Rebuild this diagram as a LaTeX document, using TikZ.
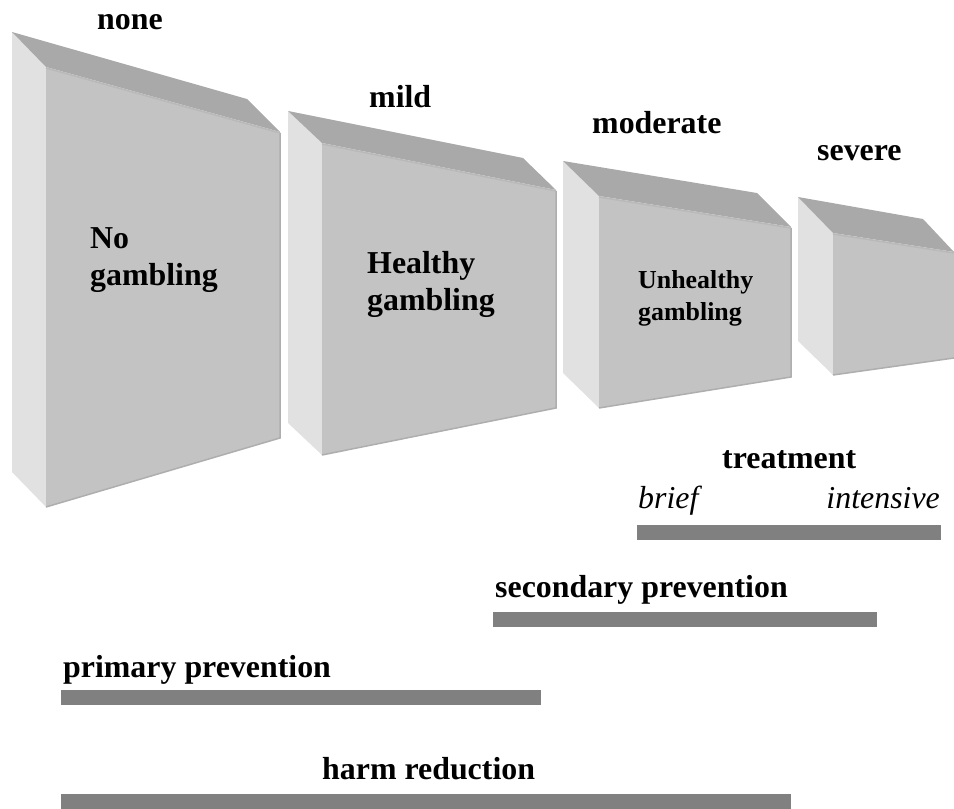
\documentclass[tikz,border=0pt]{standalone}
\usepackage{fontspec}
\setmainfont{Liberation Serif}
\definecolor{sidegray}{HTML}{E1E1E1}
\definecolor{frontgray}{HTML}{C3C3C3}
\definecolor{topgray}{HTML}{A9A9A9}
\definecolor{edgegray}{HTML}{AEAEAE}
\definecolor{bargray}{HTML}{808080}
\tikzset{
  sideface/.style={fill=sidegray},
  frontface/.style={fill=frontgray},
  topface/.style={fill=topgray},
  frontedge/.style={draw=edgegray, line width=1.5bp},
  topedge/.style={draw=frontgray!60!topgray, line width=1.5bp},
  barstyle/.style={fill=bargray},
  lbl/.style={font=\fontsize{32}{37}\selectfont\bfseries, inner sep=0pt, align=left},
  smalllbl/.style={font=\fontsize{26}{32}\selectfont\bfseries, inner sep=0pt, align=left},
  itlbl/.style={font=\fontsize{32}{37}\selectfont\itshape, inner sep=0pt},
}
\begin{document}
\begin{tikzpicture}[x=1bp,y=-1bp]
\useasboundingbox (0,0) rectangle (954,809);
% block 1 (none)
\path[sideface] (12,32) -- (46,67) -- (46,507) -- (12,472) -- cycle;
\path[topface] (12,32) -- (247,99) -- (280,132) -- (46,67) -- cycle;
\path[frontface] (46,67) -- (280,132) -- (280,438) -- (46,507) -- cycle;
\draw[frontedge] (280,133) -- (280,438) -- (46,507);
\draw[topedge] (46,68) -- (280,133);
% block 2 (mild)
\path[sideface] (288,111) -- (322,143) -- (322,455) -- (288,423) -- cycle;
\path[topface] (288,111) -- (523,158) -- (556,190) -- (322,143) -- cycle;
\path[frontface] (322,143) -- (556,190) -- (556,408) -- (322,455) -- cycle;
\draw[frontedge] (556,191) -- (556,408) -- (322,455);
\draw[topedge] (322,144) -- (556,191);
% block 3 (moderate)
\path[sideface] (563,161) -- (599,196) -- (599,408) -- (563,373) -- cycle;
\path[topface] (563,161) -- (757,193) -- (791,227) -- (599,196) -- cycle;
\path[frontface] (599,196) -- (791,227) -- (791,377) -- (599,408) -- cycle;
\draw[frontedge] (791,228) -- (791,377) -- (599,408);
\draw[topedge] (599,197) -- (791,228);
% block 4 (severe)
\path[sideface] (798,197) -- (833,233) -- (833,375) -- (798,341) -- cycle;
\path[topface] (798,197) -- (923,219) -- (954,252) -- (833,233) -- cycle;
\path[frontface] (833,233) -- (954,252) -- (954,358) -- (833,375) -- cycle;
\draw[frontedge] (954,358) -- (833,375);
\draw[topedge] (833,234) -- (954,253);
% severity labels
\node[lbl, anchor=base west] (none) at (97,30) {none};
\node[lbl, anchor=base west] (mild) at (369,107) {mild};
\node[lbl, anchor=base west] (moderate) at (592,133) {moderate};
\node[lbl, anchor=base west] (severe) at (817,160) {severe};
% block texts
\node[lbl, anchor=base west] (nogamb) at (90,285) {No\\gambling};
\node[lbl, anchor=base west] (healthy) at (367,310) {Healthy\\gambling};
\node[smalllbl, anchor=base west] (unhealthy) at (638,320) {Unhealthy\\gambling};
% treatment
\node[lbl, anchor=base west] (treatment) at (722,468) {treatment};
\node[itlbl, anchor=base west] (brief) at (638,508) {brief};
\node[itlbl, anchor=base east] (intensive) at (940,508) {intensive};
\path[barstyle] (637,525) rectangle (941,540);
% secondary prevention
\node[lbl, anchor=base west] (secondary) at (495,597) {secondary prevention};
\path[barstyle] (493,612) rectangle (877,627);
% primary prevention
\node[lbl, anchor=base west] (primary) at (63,677) {primary prevention};
\path[barstyle] (61,690) rectangle (541,705);
% harm reduction
\node[lbl, anchor=base west] (harm) at (322,779) {harm reduction};
\path[barstyle] (61,794) rectangle (791,809);
\end{tikzpicture}
\end{document}
